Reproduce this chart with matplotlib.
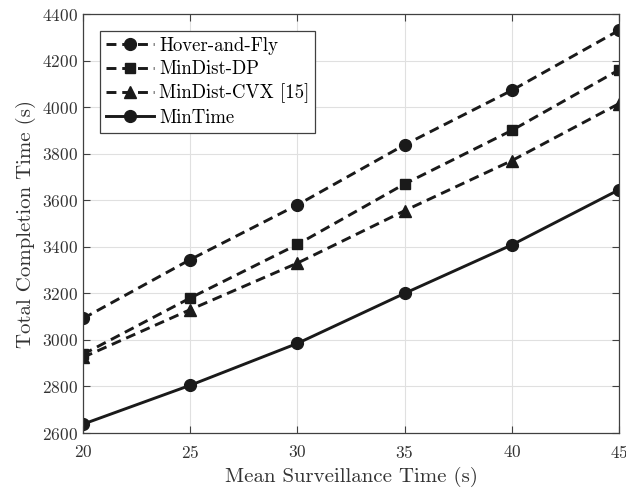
import matplotlib
matplotlib.use("Agg")
from matplotlib import pyplot as plt

plt.rcParams['font.family'] = ['cmr10', 'DejaVu Serif']
plt.rcParams['mathtext.fontset'] = 'cm'
plt.rcParams['axes.formatter.use_mathtext'] = True

x = [20, 25, 30, 35, 40, 45]
hoverFly = [3092, 3345, 3580, 3838, 4072, 4330]
minDistDP = [2938, 3180, 3410, 3670, 3900, 4160]
minDistCVX = [2925, 3130, 3330, 3555, 3770, 4015]
minTime = [2638, 2805, 2985, 3200, 3408, 3645]

fig = plt.figure(figsize=(6.26, 4.92), dpi=100)
ax = fig.add_axes([0.1326, 0.1199, 0.8562, 0.8516])

lw = 2.1
dash = (3.4, 2.0)
ax.plot(x, hoverFly, color='#1a1a1a', lw=lw, dashes=dash, marker='o', ms=8.5, label='Hover-and-Fly')
ax.plot(x, minDistDP, color='#1a1a1a', lw=lw, dashes=dash, marker='s', ms=7, label='MinDist-DP')
ax.plot(x, minDistCVX, color='#1a1a1a', lw=lw, dashes=dash, marker='^', ms=9, label='MinDist-CVX [15]')
ax.plot(x, minTime, color='#1a1a1a', lw=lw, marker='o', ms=8.5, label='MinTime')

ax.set_xlim(20, 45)
ax.set_ylim(2600, 4400)
ax.set_xticks([20, 25, 30, 35, 40, 45])
ax.set_yticks(range(2600, 4401, 200))
ax.grid(True, color='#e0e0e0', lw=0.8)
ax.set_axisbelow(True)
for s in ax.spines.values():
    s.set_color('#404040')
    s.set_linewidth(0.9)
ax.tick_params(direction='in', top=True, right=True, length=5, width=0.8,
               color='#404040', labelsize=12.5, labelcolor='#333333')
ax.tick_params(axis='x', pad=8)
ax.tick_params(axis='y', pad=4)

ax.set_xlabel('Mean Surveillance Time (s)', fontsize=15, color='#333333', labelpad=4)
ax.set_ylabel('Total Completion Time (s)', fontsize=15, color='#333333', labelpad=4)

leg = ax.legend(loc='upper left', fontsize=13.5, fancybox=False, framealpha=1,
                edgecolor='#404040', handlelength=2.6, handletextpad=0.25,
                borderpad=0.3, labelspacing=0.3, borderaxespad=0.9)
leg.get_frame().set_linewidth(0.9)

fig.savefig('out.png', dpi=100)
